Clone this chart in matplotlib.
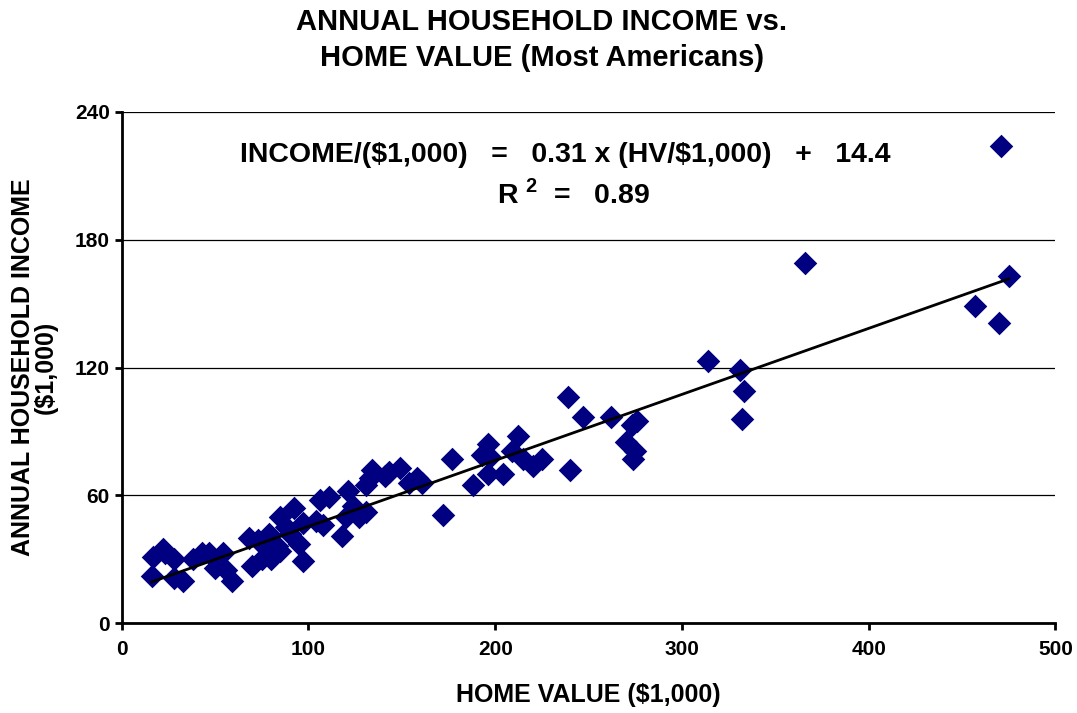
import matplotlib
matplotlib.use('Agg')
import matplotlib.pyplot as plt

plt.rcParams['font.family'] = ['Liberation Sans', 'DejaVu Sans']
plt.rcParams['font.weight'] = 'bold'
plt.rcParams['mathtext.fontset'] = 'custom'
plt.rcParams['mathtext.rm'] = 'Liberation Sans:bold'
plt.rcParams['mathtext.bf'] = 'Liberation Sans:bold'

# Data ($1,000)
home_value = [16, 17, 22, 23, 28, 28, 33, 38, 43, 47, 50, 54, 56, 59, 68, 70, 73, 75,
              76, 79, 79, 80, 83, 85, 85, 88, 90, 92, 95, 97, 97, 104, 106, 108, 111,
              118, 120, 121, 124, 127, 131, 131, 134, 133, 141, 143, 149, 154, 158, 161,
              172, 177, 188, 193, 196, 197, 196, 204, 209, 212, 215, 220, 225, 239, 240,
              247, 262, 270, 273, 276, 275, 274, 314, 331, 333, 332, 366, 457, 470, 471, 475]
income = [22, 31, 35, 33, 30, 21, 20, 30, 33, 33, 26, 33, 25, 20, 40, 27, 39, 30,
          36, 33, 42, 30, 36, 50, 34, 45, 42, 54, 37, 29, 47, 48, 58, 46, 59,
          41, 50, 62, 55, 50, 52, 65, 72, 68, 69, 71, 73, 66, 68, 66,
          51, 77, 65, 79, 84, 78, 70, 70, 81, 88, 77, 74, 77, 106, 72,
          97, 97, 85, 93, 95, 81, 77, 123, 119, 109, 96, 169, 149, 141, 224, 163]

slope = 0.31
intercept = 14.4
r_squared = 0.89

fig = plt.figure(figsize=(10.77, 7.13), dpi=100)
ax = fig.add_axes([0.113, 0.126, 0.867, 0.717])

ax.scatter(home_value, income, marker='D', s=12 ** 2, color='#000080', linewidths=0, zorder=3)

x0, x1 = min(home_value), max(home_value)
ax.plot([x0, x1], [slope * x0 + intercept, slope * x1 + intercept], color='black', linewidth=2, zorder=4)

ax.set_xlim(0, 500)
ax.set_ylim(0, 240)
ax.set_xticks([0, 100, 200, 300, 400, 500])
ax.set_yticks([0, 60, 120, 180, 240])
ax.yaxis.grid(True, color='black', linewidth=0.9)
ax.set_axisbelow(True)
for s in ['top', 'right']:
    ax.spines[s].set_visible(False)
for s in ['left', 'bottom']:
    ax.spines[s].set_linewidth(2)
ax.tick_params(axis='both', labelsize=15, width=2, length=5, direction='out')
ax.tick_params(axis='x', pad=7)

ax.set_xlabel('HOME VALUE (\\$1,000)', fontsize=18, fontweight='bold')
ax.xaxis.set_label_coords(0.5, -0.117)
ax.set_ylabel('ANNUAL HOUSEHOLD INCOME\n(\\$1,000)', fontsize=18, fontweight='bold',
              linespacing=0.95)
ax.yaxis.set_label_coords(-0.068, 0.5)

fig.text(0.503, 0.944, 'ANNUAL HOUSEHOLD INCOME vs.\nHOME VALUE (Most Americans)',
         fontsize=21, fontweight='bold', ha='center', va='center', linespacing=1.35)

ax.text(0.1265, 0.916, 'INCOME/(\\$1,000)   =   0.31 x (HV/\\$1,000)   +   14.4',
        transform=ax.transAxes, fontsize=20.5, fontweight='bold', va='center', ha='left')
ax.text(0.402, 0.838, r'R $^{2}$  =   ' + f'{r_squared:.2f}',
        transform=ax.transAxes, fontsize=20.5, fontweight='bold', va='center', ha='left')

plt.savefig('out.png', dpi=100)
